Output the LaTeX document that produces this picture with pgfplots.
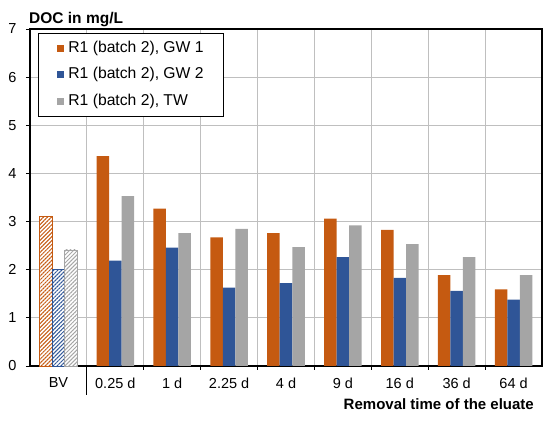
\documentclass[border=0pt]{standalone}
\usepackage{fontspec}
\setmainfont{Liberation Sans}
\usepackage{pgfplots}
\pgfplotsset{compat=1.18}
\usetikzlibrary{patterns.meta}
\definecolor{cOr}{HTML}{C55A11}
\definecolor{cBl}{HTML}{2F5597}
\definecolor{cGr}{HTML}{A5A5A5}
\definecolor{cGrid}{HTML}{BFBFBF}
\begin{document}
\begin{tikzpicture}
\begin{axis}[
  name=ax,
  scale only axis, width=512pt, height=337pt,
  xmin=-0.5, xmax=8.5, ymin=0, ymax=7,
  ytick={0,...,7},
  xtick={0,...,8},
  xticklabels={BV,0.25 d,1 d,2.25 d,4 d,9 d,16 d,36 d,64 d},
  minor xtick={0.5,1.5,...,7.5},
  major x tick style={draw=none},
  xminorgrids=true, ymajorgrids=true,
  grid style={cGrid, line width=0.9pt},
  minor grid style={cGrid, line width=0.9pt},
  tick align=outside, tick pos=left,
  major tick length=4pt, minor tick length=4pt,
  tick style={black, line width=0.8pt},
  axis line style={black, line width=1.1pt},
  ticklabel style={font=\fontsize{14.5}{16}\selectfont},
  /pgf/number format/assume math mode=true,
  xticklabel style={yshift=-4pt},
  yticklabel style={xshift=-6pt},
  bar width=0.22,
  clip=false,
  title={DOC in mg/L},
  title style={at={(rel axis cs:0,1)}, anchor=south west, xshift=-1pt, yshift=-4pt, font=\bfseries\fontsize{15.5}{17}\selectfont, inner sep=0pt},
  xlabel={Removal time of the eluate},
  xlabel style={at={(rel axis cs:1,0)}, anchor=north east, xshift=-8pt, yshift=-32pt, font=\bfseries\fontsize{15}{17}\selectfont, inner sep=0pt},
  legend style={at={(rel axis cs:0.0156,0.988)}, anchor=north west, draw=black, line width=0.8pt,
    font=\fontsize{15.7}{18}\selectfont, inner xsep=19pt, inner ysep=7pt, row sep=10.5pt, column sep=3pt,
    nodes={inner sep=1pt, text height=11pt, text depth=3pt}},
  legend cell align=left,
  legend image code/.code={\fill[#1, draw=none] (0pt,-3.5pt) rectangle (7pt,3.5pt);},
]
\addplot[ybar, fill=cOr, draw=none, bar shift=-0.22] coordinates {
 (1,4.36) (2,3.27) (3,2.67) (4,2.76) (5,3.06) (6,2.83) (7,1.89) (8,1.59)};
\addlegendentry{R1 (batch 2), GW 1}
\addplot[ybar, fill=cBl, draw=none, bar shift=0] coordinates {
 (1,2.19) (2,2.46) (3,1.63) (4,1.72) (5,2.26) (6,1.83) (7,1.56) (8,1.38)};
\addlegendentry{R1 (batch 2), GW 2}
\addplot[ybar, fill=cGr, draw=none, bar shift=0.22] coordinates {
 (1,3.53) (2,2.76) (3,2.85) (4,2.47) (5,2.92) (6,2.53) (7,2.26) (8,1.89)};
\addlegendentry{R1 (batch 2), TW}
\addplot[ybar, forget plot, fill=white, draw=cOr, line width=0.8pt, bar shift=-0.22,
  postaction={pattern={Lines[angle=45,distance=2.8pt,line width=1pt]}, pattern color=cOr}] coordinates {(0,3.10)};
\addplot[ybar, forget plot, fill=white, draw=cBl, line width=0.8pt, bar shift=0,
  postaction={pattern={Lines[angle=45,distance=2.8pt,line width=1pt]}, pattern color=cBl}] coordinates {(0,2.00)};
\addplot[ybar, forget plot, fill=white, draw=cGr, line width=0.8pt, bar shift=0.22,
  postaction={pattern={Lines[angle=45,distance=2.8pt,line width=1pt]}, pattern color=cGr}] coordinates {(0,2.41)};
\draw[black, line width=0.8pt] (axis cs:0.5,0) -- ++(0pt,-29pt);
\end{axis}
\useasboundingbox ([xshift=-30pt,yshift=-57pt]ax.south west) rectangle ([xshift=8pt,yshift=29pt]ax.north east);
\end{tikzpicture}
\end{document}
